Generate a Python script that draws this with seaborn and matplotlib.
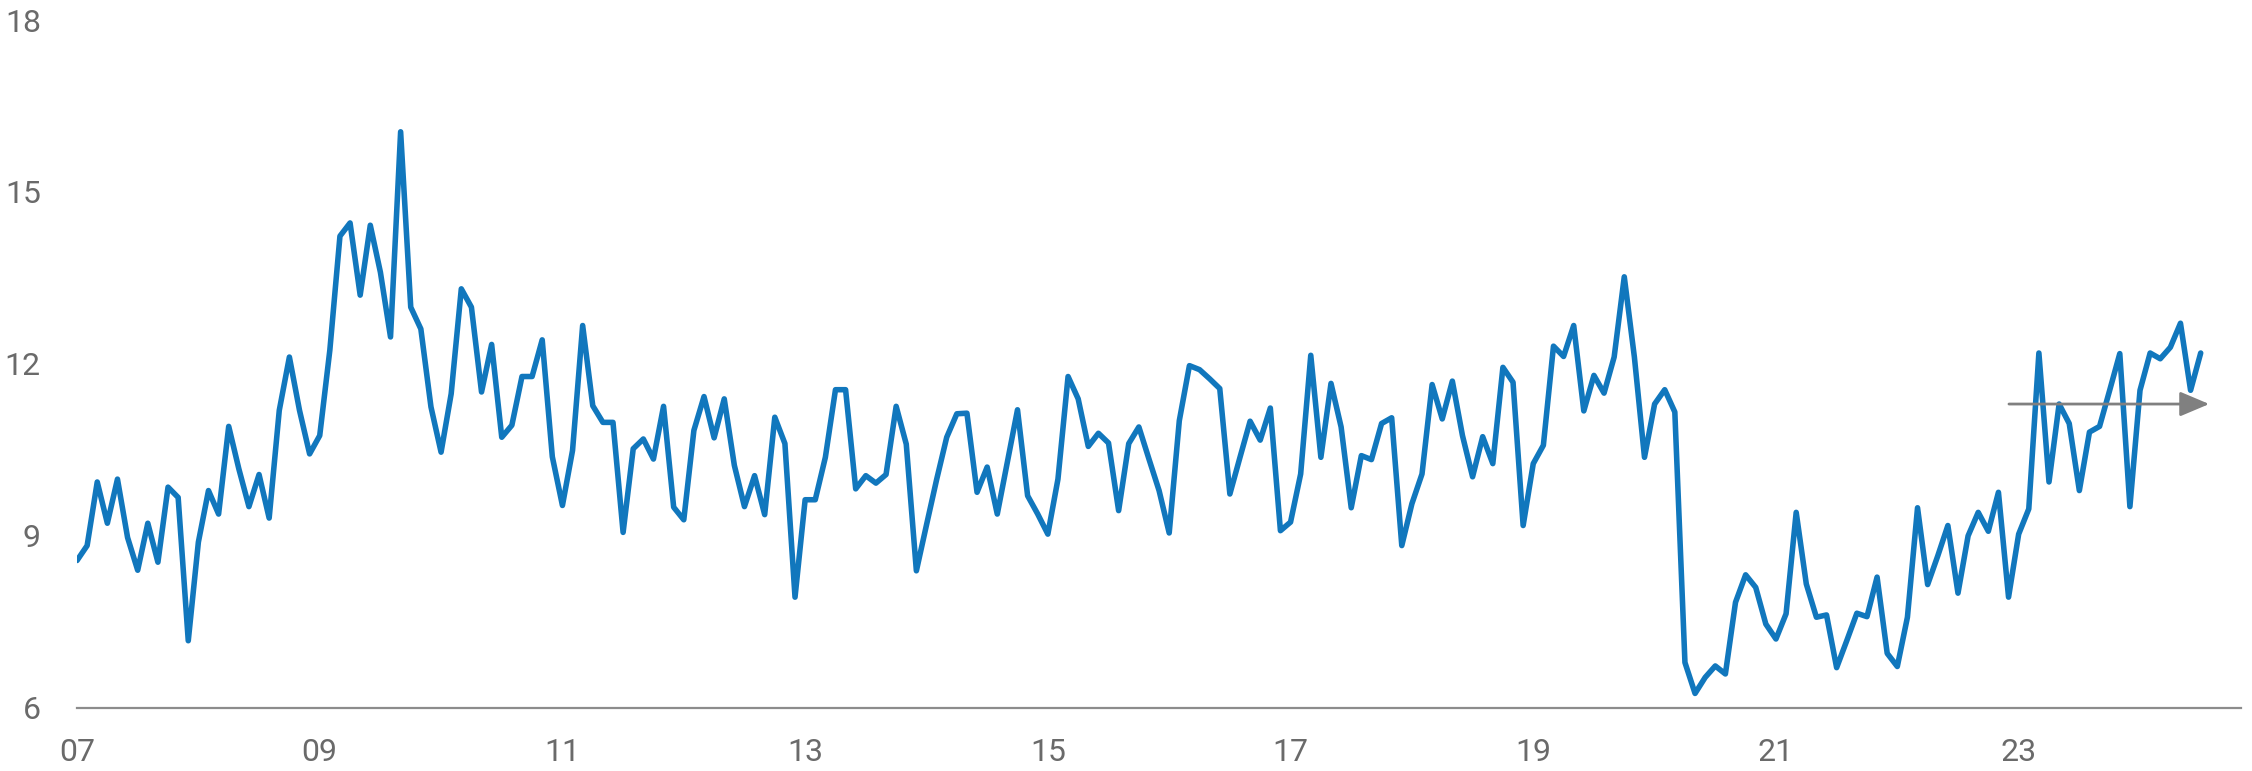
import matplotlib
matplotlib.use("Agg")
import matplotlib.pyplot as plt
import seaborn as sns
import numpy as np
import pandas as pd

# valores mensuales (ene-2007 a jul-2024)
v2007 = [8.57, 8.83, 9.94, 9.22, 9.99, 8.97, 8.40, 9.22, 8.54, 9.85, 9.67, 7.17]
v2008 = [8.89, 9.79, 9.38, 10.91, 10.17, 9.51, 10.07, 9.31, 11.19, 12.12, 11.19, 10.43]
v2009 = [10.75, 12.24, 14.23, 14.46, 13.20, 14.42, 13.60, 12.47, 16.05, 12.99, 12.61, 11.25]
v2010 = [10.46, 11.48, 13.31, 12.99, 11.51, 12.34, 10.72, 10.93, 11.78, 11.78, 12.42, 10.38]
v2011 = [9.53, 10.49, 12.67, 11.27, 10.98, 10.98, 9.06, 10.52, 10.69, 10.34, 11.26, 9.50]
v2012 = [9.28, 10.84, 11.43, 10.71, 11.39, 10.23, 9.51, 10.05, 9.37, 11.07, 10.61, 7.93]
v2013 = [9.63, 9.63, 10.37, 11.55, 11.55, 9.82, 10.05, 9.92, 10.07, 11.26, 10.60, 8.39]
v2014 = [9.19, 9.98, 10.72, 11.13, 11.14, 9.76, 10.20, 9.38, 10.29, 11.20, 9.70, 9.38]
v2015 = [9.03, 9.99, 11.78, 11.39, 10.56, 10.79, 10.62, 9.44, 10.61, 10.90, 10.34, 9.79]
v2016 = [9.05, 11.01, 11.97, 11.90, 11.74, 11.57, 9.73, 10.37, 11.00, 10.67, 11.23, 9.09]
v2017 = [9.24, 10.08, 12.15, 10.37, 11.66, 10.90, 9.49, 10.40, 10.33, 10.96, 11.06, 8.83]
v2018 = [9.56, 10.08, 11.64, 11.04, 11.70, 10.75, 10.03, 10.73, 10.26, 11.94, 11.68, 9.18]
v2019 = [10.26, 10.58, 12.31, 12.13, 12.67, 11.18, 11.80, 11.49, 12.12, 13.52, 12.12, 10.37]
v2020 = [11.30, 11.55, 11.16, 6.79, 6.25, 6.53, 6.73, 6.59, 7.84, 8.32, 8.10, 7.46]
v2021 = [7.20, 7.64, 9.41, 8.16, 7.58, 7.62, 6.70, 7.17, 7.65, 7.59, 8.28, 6.95]
v2022 = [6.72, 7.58, 9.49, 8.15, 8.65, 9.18, 8.00, 9.00, 9.41, 9.08, 9.76, 7.93]
v2023 = [9.03, 9.47, 12.19, 9.94, 11.30, 10.96, 9.79, 10.81, 10.91, 11.54, 12.18, 9.51]
v2024 = [11.54, 12.19, 12.09, 12.29, 12.71, 11.54, 12.19]

# flecha de nivel (inicio, fin, valor)
flecha_x = [2022.92, 2024.57]
flecha_y = 11.3

y_ticks = [6, 9, 12, 15, 18]
x_ticks = [2007, 2009, 2011, 2013, 2015, 2017, 2019, 2021, 2023]

valores = (v2007 + v2008 + v2009 + v2010 + v2011 + v2012 + v2013 + v2014 + v2015
           + v2016 + v2017 + v2018 + v2019 + v2020 + v2021 + v2022 + v2023 + v2024)
fechas = pd.date_range("2007-01-01", periods=len(valores), freq="MS")
df = pd.DataFrame({"fecha": fechas, "valor": valores})
df["anio"] = df["fecha"].dt.year + (df["fecha"].dt.month - 1) / 12

sns.set_theme(style="white")
plt.rcParams["font.family"] = ["Roboto", "DejaVu Sans"]

fig = plt.figure(figsize=(22.52, 7.71), dpi=100)
ax = fig.add_axes([0.0342, 0.082, 0.9608, 0.892])

sns.lineplot(data=df, x="anio", y="valor", ax=ax, color="#1177BD", linewidth=4.0)

ax.annotate("", xy=(flecha_x[1], flecha_y), xytext=(flecha_x[0], flecha_y),
            arrowprops=dict(arrowstyle="-|>,head_length=0.9,head_width=0.38",
                            color="#808080", lw=2.0, mutation_scale=20,
                            shrinkA=0, shrinkB=0))

ax.set_xlim(2007, 2024.83)
ax.set_ylim(6, 18)
ax.set_xticks(x_ticks)
ax.set_xticklabels([f"{t % 100:02d}" for t in x_ticks])
ax.set_yticks(y_ticks)
ax.set_xlabel("")
ax.set_ylabel("")

sns.despine(ax=ax, left=True)
ax.spines["bottom"].set_color("#8c8c8c")
ax.spines["bottom"].set_linewidth(1.6)
ax.tick_params(axis="x", direction="in", length=7, width=1.2, color="#8c8c8c",
               pad=22, labelsize=23, labelcolor="#6a6a6a")
ax.tick_params(axis="y", length=0, pad=26, labelsize=23, labelcolor="#6a6a6a")
ax.grid(False)

fig.savefig("out.png", dpi=100)
